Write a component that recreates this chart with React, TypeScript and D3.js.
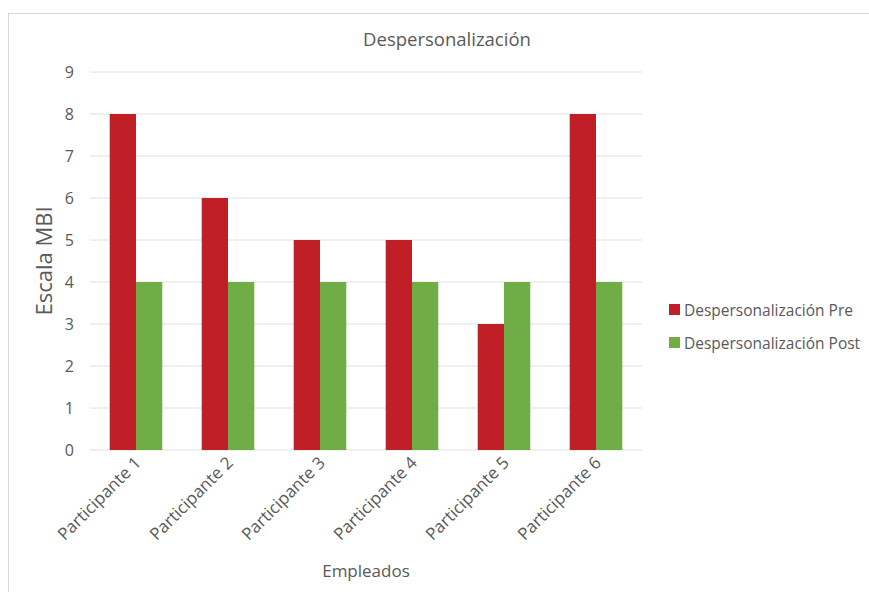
import React from "react";
import * as d3 from "d3";

const categories = ["Participante 1", "Participante 2", "Participante 3", "Participante 4", "Participante 5", "Participante 6"];
const preValues = [8, 6, 5, 5, 3, 8];
const postValues = [4, 4, 4, 4, 4, 4];
const seriesNames = ["Despersonalización Pre", "Despersonalización Post"];
const yTicks = [0, 1, 2, 3, 4, 5, 6, 7, 8, 9];

const colors = ["#C01F28", "#70AD47"];
const font = "'Open Sans', sans-serif";

export default function App() {
  const W = 869, H = 592;
  const left = 90, right = 642, top = 72, bottom = 450;
  const x = d3.scaleBand<string>().domain(categories).range([left, right]).paddingInner(0).paddingOuter(0);
  const y = d3.scaleLinear().domain([0, 9]).range([bottom, top]);
  const bw = x.bandwidth() / 3.5;
  const series = [preValues, postValues];

  return (
    <svg width={W} height={H} style={{ position: "absolute", left: 0, top: 0 }}>
      <rect x={0} y={0} width={W} height={H} fill="#fff" />
      <rect x={8.5} y={13.5} width={W + 5} height={H} fill="none" stroke="#d9d9d9" />
      <text x={447} y={46} textAnchor="middle" fontFamily={font} fontSize={18.5} fill="#595959">Despersonalización</text>
      {yTicks.map((t) => (
        <g key={t}>
          <line x1={left} x2={right} y1={y(t)} y2={y(t)} stroke="#e0e0e0" strokeWidth={1} />
          <text x={74} y={y(t) + 6} textAnchor="end" fontFamily={font} fontSize={16} fill="#595959">{t}</text>
        </g>
      ))}
      {categories.map((c, i) => {
        const cx = (x(c) as number) + x.bandwidth() / 2;
        return (
          <g key={c}>
            {series.map((s, j) => (
              <rect key={j} x={cx - bw + j * bw} y={y(s[i])} width={bw} height={bottom - y(s[i])} fill={colors[j]} />
            ))}
            <text transform={`translate(${cx + 6},${bottom + 14}) rotate(-45)`} textAnchor="end" fontFamily={font} fontSize={17} fill="#595959">{c}</text>
          </g>
        );
      })}
      <text x={366} y={577} textAnchor="middle" fontFamily={font} fontSize={17} fill="#595959">Empleados</text>
      <text transform={`translate(52,261) rotate(-90)`} textAnchor="middle" fontFamily={font} fontSize={22} fill="#595959">Escala MBI</text>
      {seriesNames.map((n, j) => (
        <g key={n}>
          <rect x={669} y={304 + j * 33} width={11} height={11} fill={colors[j]} />
          <text x={684} y={316 + j * 33} fontFamily={font} fontSize={15.5} fill="#595959">{n}</text>
        </g>
      ))}
    </svg>
  );
}
